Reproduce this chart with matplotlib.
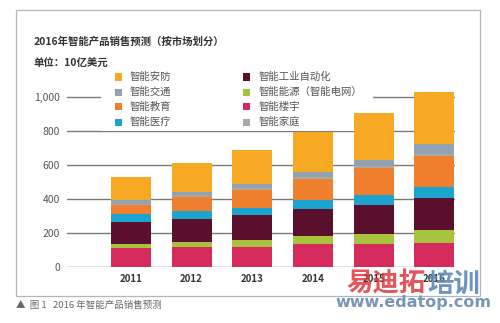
import matplotlib
matplotlib.use("Agg")
import matplotlib.pyplot as plt
from matplotlib.patches import Rectangle
import numpy as np

plt.rcParams['font.family'] = ['Noto Sans CJK SC', 'DejaVu Sans']

years = ['2011', '2012', '2013', '2014', '2015', '2016']

# 单位：10亿美元（自下而上堆叠）
building   = [108, 113, 118, 134, 133, 138]   # 智能楼宇
energy     = [24, 32, 39, 49, 58, 78]         # 智能能源（智能电网）
industry   = [133, 135, 149, 157, 172, 186]   # 智能工业自动化
medical    = [43, 45, 41, 50, 59, 69]         # 智能医疗
education  = [55, 86, 104, 125, 157, 180]     # 智能教育
home       = [8, 8, 9, 10, 12, 14]            # 智能家庭
transport  = [22, 20, 26, 33, 37, 55]         # 智能交通
security   = [137, 170, 200, 235, 275, 309]   # 智能安防

yticks = [0, 200, 400, 600, 800, 1000]
ytick_labels = ['0', '200', '400', '600', '800', '1,000']

stack = [
    ('智能楼宇', building, '#D52A5C'),
    ('智能能源（智能电网）', energy, '#A8C23E'),
    ('智能工业自动化', industry, '#5A0F2C'),
    ('智能医疗', medical, '#1CA4D0'),
    ('智能教育', education, '#F07F2E'),
    ('智能家庭', home, '#A9A9A2'),
    ('智能交通', transport, '#8FA3B2'),
    ('智能安防', security, '#F8A923'),
]
colors = {name: c for name, _, c in stack}

legend_left = ['智能安防', '智能交通', '智能教育', '智能医疗']
legend_right = ['智能工业自动化', '智能能源（智能电网）', '智能楼宇', '智能家庭']

W, H = 500, 323
fig = plt.figure(figsize=(W / 100, H / 100), dpi=100)
fig.patch.set_facecolor('white')


def fx(px):
    return px / W


def fy(py):
    return 1 - py / H


# plot area: y=0 at 266.7px, 1000 at 96.7px
ymax = 1040
y0_px, px_per_unit = 266.7, 0.17
top_px = y0_px - ymax * px_per_unit
left_px, right_px = 67, 455
ax = fig.add_axes([fx(left_px), fy(y0_px), (right_px - left_px) / W,
                   (y0_px - top_px) / H])

x = np.arange(len(years))
ax.set_xlim(-1.054, 5.34)
ax.set_ylim(0, ymax)

for yv in yticks:
    ax.axhline(yv, color='#7a7a7a', lw=1.0, zorder=0)

# white panel behind the legend hides the grid there
ax.add_patch(Rectangle((-0.494, 796), 4.49, 400, facecolor='white',
                       edgecolor='none', zorder=1))

bottom = np.zeros(len(years))
for name, vals, c in stack:
    v = np.array(vals, dtype=float)
    ax.bar(x, v, width=0.66, bottom=bottom, color=c, edgecolor='none',
           zorder=2)
    bottom += v

ax.set_xticks(x)
ax.set_xticklabels(years, fontsize=7, fontweight='bold', color='#333333')
ax.set_yticks(yticks)
ax.set_yticklabels(ytick_labels, fontsize=7.5, color='#555555')
ax.tick_params(axis='both', length=0)
ax.tick_params(axis='x', pad=5)
ax.tick_params(axis='y', pad=5)
for s in ax.spines.values():
    s.set_visible(False)

# legend
rows_y = [77, 92, 107, 122]
for col, (names, mx, tx) in enumerate([(legend_left, 115, 130),
                                       (legend_right, 243, 259)]):
    for r, name in enumerate(names):
        yc = rows_y[r]
        fig.add_artist(Rectangle((fx(mx), fy(yc + 3.5)), 7 / W, 7 / H,
                                 transform=fig.transFigure,
                                 facecolor=colors[name], edgecolor='none'))
        fig.text(fx(tx), fy(yc), name, fontsize=7.5, color='#555555',
                 ha='left', va='center')

# titles
fig.text(fx(34), fy(42), '2016年智能产品销售预测（按市场划分）', fontsize=7.5,
         fontweight='bold', color='#333333', ha='left', va='center')
fig.text(fx(34), fy(63), '单位：10亿美元', fontsize=7.5, fontweight='bold',
         color='#333333', ha='left', va='center')

# frame around the chart
fig.add_artist(Rectangle((fx(16), fy(296)), (480 - 16) / W, (296 - 10) / H,
                         transform=fig.transFigure, facecolor='none',
                         edgecolor='#b5b5b5', lw=0.9))

# caption
fig.text(fx(16), fy(305), '▲  图 1   2016 年智能产品销售预测', fontsize=6.8,
         color='#666666', ha='left', va='center')

# site mark
fig.text(fx(346), fy(284), '易迪拓', fontsize=19, fontweight='bold',
         color='#E0363C', alpha=0.85, ha='left', va='center')
fig.text(fx(427), fy(284), '培训', fontsize=19, fontweight='bold',
         color='#5E88B6', alpha=0.9, ha='left', va='center')
fig.text(fx(335), fy(303), 'www.edatop.com', fontsize=11.5,
         fontweight='bold', color='#7896B8', ha='left', va='center',
         family='DejaVu Sans')

fig.savefig('out.png', dpi=100)
